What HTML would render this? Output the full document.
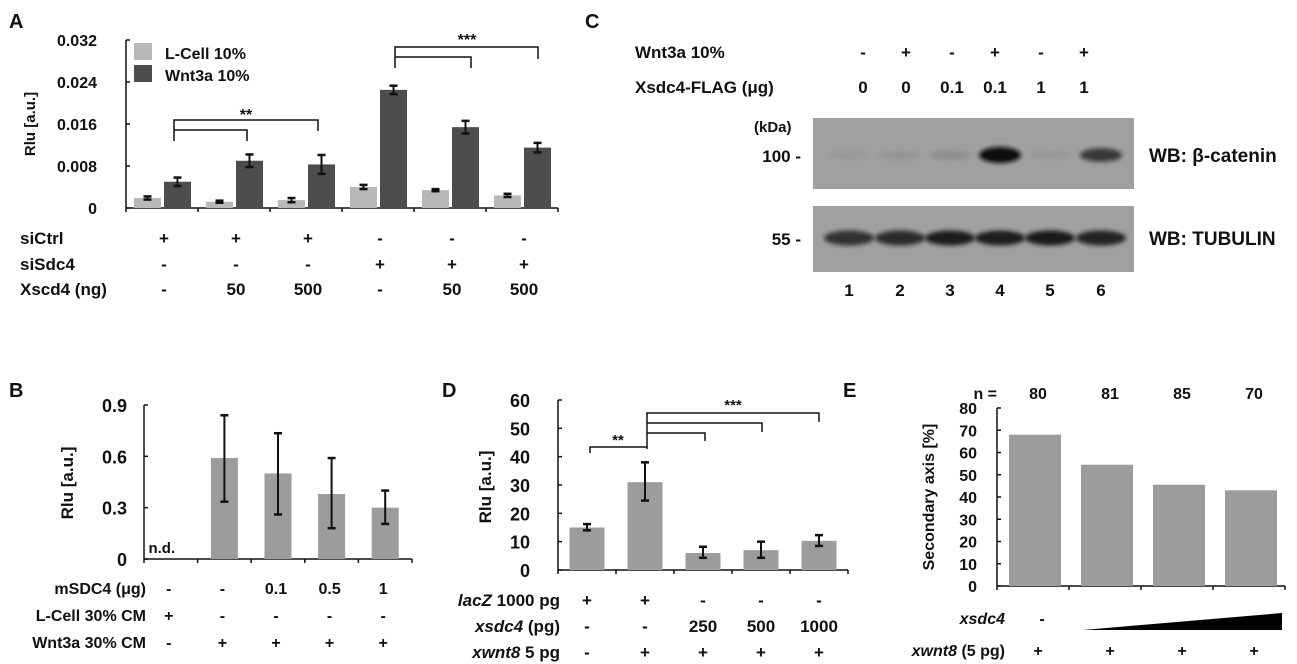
<!DOCTYPE html>
<html><head><meta charset="utf-8"><style>
html,body{margin:0;padding:0;background:#fff;}
svg{display:block;font-family:"Liberation Sans",Arial,sans-serif;}
text{font-weight:bold;fill:#111;}
</style></head><body>
<svg id="fig" width="1297" height="664" viewBox="0 0 1297 664" xmlns="http://www.w3.org/2000/svg">
<g id="A"></g>
<g id="B"></g>
<g id="C"></g>
<g id="D"></g>
<g id="E"></g>
</svg>
<script>
// ---- Panel A data
const aTicks = [0, 0.008, 0.016, 0.024, 0.032];
const aTickLabels = ["0", "0.008", "0.016", "0.024", "0.032"];
const aLcell = [0.0019, 0.0012, 0.0015, 0.0040, 0.0034, 0.0024];
const aLcellErr = [0.0003, 0.0002, 0.0004, 0.0004, 0.0002, 0.0003];
const aWnt = [0.0050, 0.0090, 0.0083, 0.0225, 0.0154, 0.0115];
const aWntErr = [0.0008, 0.0012, 0.0018, 0.0008, 0.0012, 0.0009];
const aSiCtrl = ["+", "+", "+", "-", "-", "-"];
const aSiSdc4 = ["-", "-", "-", "+", "+", "+"];
const aXscd4 = ["-", "50", "500", "-", "50", "500"];
// ---- Panel B data
const bTicks = [0, 0.3, 0.6, 0.9];
const bTickLabels = ["0", "0.3", "0.6", "0.9"];
const bValues = [null, 0.59, 0.50, 0.38, 0.30];
const bErrHi = [null, 0.84, 0.735, 0.59, 0.40];
const bErrLo = [null, 0.335, 0.26, 0.18, 0.205];
const bMSDC4 = ["-", "-", "0.1", "0.5", "1"];
const bLcell = ["+", "-", "-", "-", "-"];
const bWnt = ["-", "+", "+", "+", "+"];
// ---- Panel C data
const cWnt = ["-", "+", "-", "+", "-", "+"];
const cFlag = ["0", "0", "0.1", "0.1", "1", "1"];
const cCatenin = [0.04, 0.08, 0.12, 1.0, 0.06, 0.7];
const cTubulin = [0.8, 0.85, 0.95, 0.95, 0.97, 0.9];
// ---- Panel D data
const dTicks = [0, 10, 20, 30, 40, 50, 60];
const dValues = [15, 31, 6, 7, 10.3];
const dErrHi = [16.2, 38, 8.2, 10, 12.3];
const dErrLo = [14, 24.5, 4.3, 4.3, 8.5];
const dLacZ = ["+", "+", "-", "-", "-"];
const dXsdc4 = ["-", "-", "250", "500", "1000"];
const dXwnt8 = ["-", "+", "+", "+", "+"];
// ---- Panel E data
const eTicks = [0, 10, 20, 30, 40, 50, 60, 70, 80];
const eValues = [68, 54.5, 45.5, 43];
const eN = ["80", "81", "85", "70"];
const eXwnt8 = ["+", "+", "+", "+"];

const NS = "http://www.w3.org/2000/svg";
function mk(parent, tag, attrs, txt) {
  const e = document.createElementNS(NS, tag);
  for (const k in attrs) e.setAttribute(k, attrs[k]);
  if (txt !== undefined) e.textContent = txt;
  parent.appendChild(e);
  return e;
}
function line(p, x1, y1, x2, y2, w, name) {
  const l = mk(p, "line", {x1, y1, x2, y2, stroke: "#111", "stroke-width": w || 1.5});
  
  
  return l;
}
function txt(p, x, y, s, size, anchor, name, extra) {
  const t = mk(p, "text", Object.assign({x, y, "font-size": size, "text-anchor": anchor || "start"}, extra || {}), s);
  
  
  return t;
}
function geneLabel(p, x, y, gene, rest, size, name) {
  const t = txt(p, x, y, "", size, "end", name);
  mk(t, "tspan", {"font-style": "italic"}, gene);
  mk(t, "tspan", {}, rest);
  return t;
}
function errbar(p, x, yHi, yLo, cap) {
  line(p, x, yHi, x, yLo, 2, 'error-bar');
  line(p, x - cap, yHi, x + cap, yHi, 2.5, 'error-cap');
  line(p, x - cap, yLo, x + cap, yLo, 2.5, 'error-cap');
}
function bracket(p, pts, name) {
  const pl = mk(p, "polyline", {points: pts, fill: "none", stroke: "#111", "stroke-width": 1.5});
  
  
}

// ================= Panel A
(function () {
  const g = document.getElementById("A");
  const x0 = 126, x1 = 558, y0 = 208, yTop = 40, max = 0.032;
  const ys = v => y0 - v / max * (y0 - yTop);
  const gw = (x1 - x0) / aLcell.length;
  txt(g, 9, 28, "A", 20, "start", "panel-label-a");
  line(g, x0, yTop, x0, y0, 1.5, 'y-axis');
  line(g, x0, y0, x1, y0, 1.5, 'x-axis');
  aTicks.forEach((t, i) => {
    line(g, x0, ys(t), x0 + 4, ys(t), 1.5, 'y-tick');
    txt(g, 97, ys(t) + 6, aTickLabels[i], 16, "end", 'y-tick-label');
  });
  for (let i = 0; i <= aLcell.length; i++) line(g, x0 + i * gw, y0, x0 + i * gw, y0 + 4, 1.5, 'x-tick');
  txt(g, 35, 124, "Rlu [a.u.]", 15, "middle", 'y-axis-title', {transform: "rotate(-90 35 124)"});
  aLcell.forEach((v, i) => {
    const gx = x0 + i * gw;
    const r1 = mk(g, "rect", {x: gx + 8, y: ys(v), width: 27, height: y0 - ys(v), fill: "#b8b8b8"});
    
    
    errbar(g, gx + 21.5, ys(v + aLcellErr[i]), ys(v - aLcellErr[i]), 4);
    const w = aWnt[i];
    const r2 = mk(g, "rect", {x: gx + 38, y: ys(w), width: 27, height: y0 - ys(w), fill: "#4d4d4d"});
    
    
    errbar(g, gx + 51.5, ys(w + aWntErr[i]), ys(w - aWntErr[i]), 4);
    const cx = gx + 38;
    txt(g, cx, 244, aSiCtrl[i], 17, "middle", 'sictrl-value');
    txt(g, cx, 270, aSiSdc4[i], 17, "middle", 'sisdc4-value');
    txt(g, cx, 295, aXscd4[i], 17, "middle", 'xscd4-value');
  });
  txt(g, 20, 244, "siCtrl", 17, "start", 'row-label-sictrl');
  txt(g, 20, 270, "siSdc4", 17, "start", 'row-label-sisdc4');
  txt(g, 20, 295, "Xscd4 (ng)", 17, "start", 'row-label-xscd4');
  const l1 = mk(g, "rect", {x: 134, y: 43, width: 18, height: 17, fill: "#b8b8b8"});
  
  
  const l2 = mk(g, "rect", {x: 134, y: 65, width: 18, height: 17, fill: "#4d4d4d"});
  
  
  txt(g, 165, 59, "L-Cell 10%", 16, "start", 'legend-entry-lcell');
  txt(g, 165, 81, "Wnt3a 10%", 16, "start", 'legend-entry-wnt3a');
  bracket(g, "174,141 174,120 318,120 318,131", 'bracket-double-star');
  bracket(g, "174,130 247,130 247,141", 'bracket-double-star-inner');
  txt(g, 246, 120, "**", 16, "middle", 'significance-double-star');
  bracket(g, "395,68 395,47 538,47 538,59", 'bracket-triple-star');
  bracket(g, "395,57 471,57 471,68", 'bracket-triple-star-inner');
  txt(g, 467, 45, "***", 16, "middle", 'significance-triple-star');
})();

// ================= Panel B
(function () {
  const g = document.getElementById("B");
  const x0 = 144, x1 = 412, y0 = 559, yTop = 405, max = 0.9;
  const ys = v => y0 - v / max * (y0 - yTop);
  const gw = (x1 - x0) / bValues.length;
  txt(g, 9, 397, "B", 20, "start", "panel-label-b");
  line(g, x0, yTop, x0, y0, 1.5, 'y-axis');
  line(g, x0, y0, x1, y0, 1.5, 'x-axis');
  bTicks.forEach((t, i) => {
    line(g, x0, ys(t), x0 + 4, ys(t), 1.5, 'y-tick');
    txt(g, 127, ys(t) + 7, bTickLabels[i], 18, "end", 'y-tick-label');
  });
  for (let i = 0; i <= bValues.length; i++) line(g, x0 + i * gw, y0, x0 + i * gw, y0 + 4, 1.5, 'x-tick');
  txt(g, 73, 483, "Rlu [a.u.]", 17, "middle", 'y-axis-title', {transform: "rotate(-90 73 483)"});
  bValues.forEach((v, i) => {
    const cx = x0 + (i + 0.5) * gw;
    if (v === null) {
      txt(g, cx - 9, 553, "n.d.", 15, "middle", 'not-determined-label', {"font-weight": "normal"});
    } else {
      const r = mk(g, "rect", {x: cx - 13.5, y: ys(v), width: 27, height: y0 - ys(v), fill: "#9c9c9c"});
      
      
      errbar(g, cx, ys(bErrHi[i]), ys(bErrLo[i]), 4);
    }
    txt(g, cx - 2, 594, bMSDC4[i], 16, "middle", 'msdc4-value');
    txt(g, cx - 2, 621, bLcell[i], 16, "middle", 'lcell-value');
    txt(g, cx - 2, 648, bWnt[i], 16, "middle", 'wnt3a-value');
  });
  txt(g, 146, 594, "mSDC4 (μg)", 16, "end", 'row-label-msdc4');
  txt(g, 146, 621, "L-Cell 30% CM", 16, "end", 'row-label-lcell');
  txt(g, 146, 648, "Wnt3a 30% CM", 16, "end", 'row-label-wnt3a');
})();

// ================= Panel C
(function () {
  const g = document.getElementById("C");
  txt(g, 585, 28, "C", 20, "start", "panel-label-c");
  const lanes = [863, 906, 952, 995, 1041, 1084];
  const laneNum = [849, 900, 950, 1000, 1050, 1101];
  txt(g, 635, 58, "Wnt3a 10%", 17, "start", 'row-label-wnt3a');
  txt(g, 635, 93, "Xsdc4-FLAG (μg)", 17, "start", 'row-label-xsdc4-flag');
  cWnt.forEach((s, i) => {
    txt(g, lanes[i], 58, s, 17, "middle", 'wnt3a-value');
    txt(g, lanes[i], 93, cFlag[i], 17, "middle", 'flag-value');
    txt(g, laneNum[i], 296, String(i + 1), 17, "middle", 'lane-number');
  });
  const defs = mk(g, "defs", {});
  const f = mk(defs, "filter", {id: "blur", x: "-30%", y: "-80%", width: "160%", height: "260%"});
  mk(f, "feGaussianBlur", {stdDeviation: "2"});
  const b1 = mk(g, "rect", {x: 813, y: 118, width: 321, height: 71, fill: "#a0a0a0"});
  
  
  const b2 = mk(g, "rect", {x: 813, y: 206, width: 321, height: 66, fill: "#a0a0a0"});
  
  
  cCatenin.forEach((v, i) => {
    const e = mk(g, "ellipse", {cx: laneNum[i], cy: 155, rx: 21, ry: 4 + 4 * v, fill: "#111", opacity: v, filter: "url(#blur)"});
    
    
  });
  cTubulin.forEach((v, i) => {
    const e = mk(g, "ellipse", {cx: laneNum[i], cy: 238, rx: 25, ry: 7.5, fill: "#151515", opacity: v, filter: "url(#blur)"});
    
    
  });
  txt(g, 754, 132, "(kDa)", 15, "start", 'kda-label', {"font-weight": "normal"});
  txt(g, 801, 162, "100 -", 17, "end", 'marker-100');
  txt(g, 801, 245, "55 -", 17, "end", 'marker-55');
  txt(g, 1149, 162, "WB: β-catenin", 19, "start", 'blot-label-beta-catenin');
  txt(g, 1149, 245, "WB: TUBULIN", 19, "start", 'blot-label-tubulin');
})();

// ================= Panel D
(function () {
  const g = document.getElementById("D");
  const x0 = 558, x1 = 848, y0 = 570, yTop = 400, max = 60;
  const ys = v => y0 - v / max * (y0 - yTop);
  const gw = (x1 - x0) / dValues.length;
  txt(g, 442, 397, "D", 20, "start", "panel-label-d");
  line(g, x0, yTop, x0, y0, 1.5, 'y-axis');
  line(g, x0, y0, x1, y0, 1.5, 'x-axis');
  dTicks.forEach(t => {
    line(g, x0, ys(t), x0 + 4, ys(t), 1.5, 'y-tick');
    txt(g, 530, ys(t) + 7, String(t), 18, "end", 'y-tick-label');
  });
  for (let i = 0; i <= dValues.length; i++) line(g, x0 + i * gw, y0, x0 + i * gw, y0 + 4, 1.5, 'x-tick');
  txt(g, 491, 487, "Rlu [a.u.]", 17, "middle", 'y-axis-title', {transform: "rotate(-90 491 487)"});
  dValues.forEach((v, i) => {
    const cx = x0 + (i + 0.5) * gw;
    const r = mk(g, "rect", {x: cx - 17.5, y: ys(v), width: 35, height: y0 - ys(v), fill: "#9c9c9c"});
    
    
    errbar(g, cx, ys(dErrHi[i]), ys(dErrLo[i]), 4);
    txt(g, cx, 606, dLacZ[i], 17, "middle", 'lacz-value');
    txt(g, cx, 632, dXsdc4[i], 17, "middle", 'xsdc4-value');
    txt(g, cx, 658, dXwnt8[i], 17, "middle", 'xwnt8-value');
  });
  geneLabel(g, 560, 606, "lacZ", " 1000 pg", 17, 'row-label-lacz');
  geneLabel(g, 560, 632, "xsdc4", " (pg)", 17, 'row-label-xsdc4');
  geneLabel(g, 560, 658, "xwnt8", " 5 pg", 17, 'row-label-xwnt8');
  bracket(g, "590,453 590,447 647,447", 'bracket-double-star');
  txt(g, 618, 445, "**", 15, "middle", 'significance-double-star');
  bracket(g, "647,449 647,413 819,413 819,422", 'bracket-triple-star');
  bracket(g, "647,423 762,423 762,432", 'bracket-triple-star-mid');
  bracket(g, "647,433 705,433 705,441", 'bracket-triple-star-inner');
  txt(g, 733, 410, "***", 15, "middle", 'significance-triple-star');
})();

// ================= Panel E
(function () {
  const g = document.getElementById("E");
  const x0 = 997, x1 = 1285, y0 = 586, yTop = 408, max = 80;
  const ys = v => y0 - v / max * (y0 - yTop);
  const gw = (x1 - x0) / eValues.length;
  txt(g, 843, 397, "E", 20, "start", "panel-label-e");
  line(g, x0, yTop, x0, y0, 1.5, 'y-axis');
  line(g, x0, y0, x1, y0, 1.5, 'x-axis');
  eTicks.forEach(t => {
    line(g, x0, ys(t), x0 + 4, ys(t), 1.5, 'y-tick');
    txt(g, 977, ys(t) + 6, String(t), 16, "end", 'y-tick-label');
  });
  for (let i = 0; i <= eValues.length; i++) line(g, x0 + i * gw, y0, x0 + i * gw, y0 + 4, 1.5, 'x-tick');
  txt(g, 934, 497, "Secondary axis [%]", 16, "middle", 'y-axis-title', {transform: "rotate(-90 934 497)"});
  txt(g, 997, 399, "n =", 16, "end", 'n-label', {"font-weight": "normal"});
  eValues.forEach((v, i) => {
    const cx = x0 + (i + 0.5) * gw;
    const r = mk(g, "rect", {x: cx - 24, y: ys(v), width: 52, height: y0 - ys(v), fill: "#9c9c9c"});
    
    
    txt(g, cx + 5, 399, eN[i], 16, "middle", 'n-value', {"font-weight": "normal"});
    txt(g, cx + 5, 656, eXwnt8[i], 16, "middle", 'xwnt8-value');
  });
  txt(g, 1005, 624, "xsdc4", 16, "end", 'row-label-xsdc4', {"font-style": "italic"});
  txt(g, 1042, 624, "-", 16, "middle", 'xsdc4-none');
  geneLabel(g, 1005, 656, "xwnt8", " (5 pg)", 16, 'row-label-xwnt8');
  const w = mk(g, "polygon", {points: "1083,630 1282,630 1282,613", fill: "#000"});
  
  
})();
</script>
</body></html>
